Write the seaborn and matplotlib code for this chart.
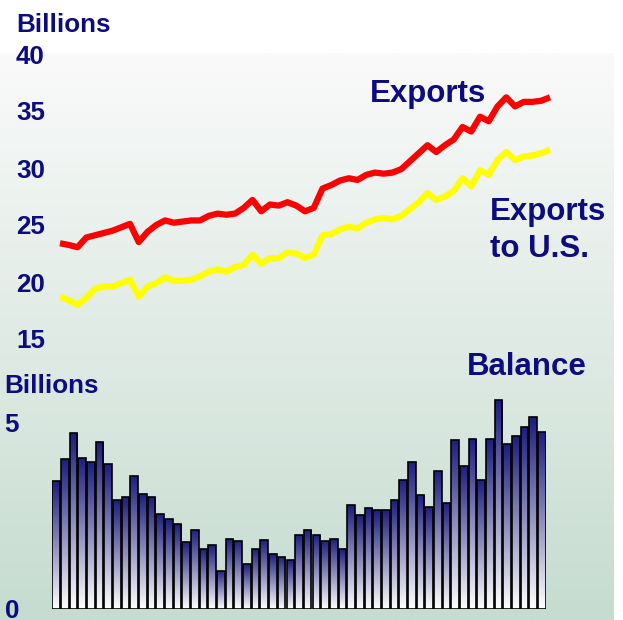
import numpy as np
import matplotlib
matplotlib.use("Agg")
import matplotlib.pyplot as plt
from matplotlib.colors import LinearSegmentedColormap
import seaborn as sns

# monthly series, billions
months = list(range(57))
exports = [23.4, 23.25, 23.05, 23.9, 24.1, 24.3, 24.5, 24.8, 25.1, 23.5,
           24.4, 25.0, 25.4, 25.2, 25.3, 25.4, 25.4, 25.8, 26.0, 25.9,
           26.0, 26.5, 27.2, 26.2, 26.8, 26.7, 27.0, 26.7, 26.2, 26.5,
           28.2, 28.5, 28.9, 29.1, 28.95, 29.4, 29.6, 29.5, 29.6, 29.9,
           30.6, 31.3, 32.0, 31.4, 32.0, 32.5, 33.6, 33.2, 34.5, 34.1,
           35.4, 36.2, 35.4, 35.8, 35.8, 35.9, 36.2]
exports_us = [18.7, 18.4, 18.0, 18.6, 19.4, 19.6, 19.6, 19.9, 20.2, 18.7,
              19.6, 19.9, 20.4, 20.1, 20.1, 20.2, 20.5, 20.9, 21.1, 20.9,
              21.3, 21.5, 22.4, 21.6, 22.1, 22.1, 22.6, 22.5, 22.1, 22.4,
              24.1, 24.2, 24.6, 24.85, 24.7, 25.2, 25.5, 25.6, 25.5, 25.8,
              26.4, 27.0, 27.8, 27.2, 27.5, 28.0, 29.1, 28.4, 29.8, 29.4,
              30.7, 31.4, 30.7, 31.0, 31.1, 31.3, 31.6]
balance = [3.42, 4.01, 4.70, 4.05, 3.94, 4.46, 3.87, 2.91, 2.99, 3.56,
           3.08, 2.99, 2.54, 2.40, 2.26, 1.78, 2.12, 1.60, 1.71, 1.02,
           1.88, 1.82, 1.19, 1.60, 1.84, 1.47, 1.40, 1.30, 1.99, 2.12,
           1.99, 1.82, 1.88, 1.60, 2.77, 2.51, 2.71, 2.64, 2.64, 2.91,
           3.46, 3.94, 3.05, 2.74, 3.70, 2.84, 4.52, 3.83, 4.55, 3.46,
           4.55, 5.58, 4.41, 4.62, 4.86, 5.13, 4.72]

top_ticks = [15, 20, 25, 30, 35, 40]
bottom_ticks = [0, 5]

NAVY = "#0c0c80"

sns.set_style("white")
plt.rcParams["font.family"] = ["Liberation Sans", "DejaVu Sans"]
plt.rcParams["font.weight"] = "bold"

W, H = 623, 620
fig = plt.figure(figsize=(W / 100, H / 100), dpi=100)
fig.patch.set_facecolor("white")


def px_rect(left, top, right, bottom):
    return [left / W, 1 - bottom / H, (right - left) / W, (bottom - top) / H]


# shaded backdrop
bg = fig.add_axes(px_rect(0, 53, 614, 620), zorder=-10)
shade = LinearSegmentedColormap.from_list("shade", ["#fafafa", "#c6dcd0"])
bg.imshow(np.linspace(0, 1, 256).reshape(-1, 1), cmap=shade, aspect="auto")
bg.axis("off")

# exports lines
ax_top = fig.add_axes(px_rect(60, 54, 550, 339))
sns.lineplot(x=months, y=exports, ax=ax_top, color="#ff0000", linewidth=4.5)
sns.lineplot(x=months, y=exports_us, ax=ax_top, color="#ffff00", linewidth=4.5)
for line in ax_top.lines:
    line.set_clip_on(False)
    line.set_solid_capstyle("butt")
ax_top.set_xlim(0, 56)
ax_top.set_ylim(15, 40)
ax_top.set_xticks([])
ax_top.set_yticks(top_ticks)
ax_top.tick_params(axis="y", length=0, pad=10.8, labelsize=18.7, labelcolor=NAVY)
ax_top.set_xlabel("")
ax_top.set_ylabel("")
ax_top.set_facecolor("none")
sns.despine(ax=ax_top, left=True, bottom=True)

# balance bars
ax_bot = fig.add_axes(px_rect(51.7, 609 - 5.7 * 37.4, 546.3, 609))
sns.barplot(x=months, y=balance, ax=ax_bot, color=NAVY, width=0.88,
            edgecolor="black", linewidth=1.2)
bar_cmap = LinearSegmentedColormap.from_list("bar", ["#ffffff", "#1c1c7e"])
grad = np.linspace(1, 0, 256).reshape(-1, 1)
for bar in ax_bot.patches:
    x0, w, h = bar.get_x(), bar.get_width(), bar.get_height()
    img = ax_bot.imshow(grad, cmap=bar_cmap, vmin=0, vmax=1, aspect="auto",
                        extent=[x0, x0 + w, 0, h], zorder=1)
    img.set_clip_path(bar)
    bar.set_facecolor("none")
    bar.set_zorder(2)
ax_bot.set_xlim(-0.5, 56.5)
ax_bot.set_ylim(0, 5.7)
ax_bot.set_xticks([])
ax_bot.set_yticks(bottom_ticks)
ax_bot.tick_params(axis="y", length=0, pad=23.5, labelsize=18.7, labelcolor=NAVY)
ax_bot.set_xlabel("")
ax_bot.set_ylabel("")
ax_bot.set_facecolor("none")
sns.despine(ax=ax_bot, left=True, bottom=True)

# labels
def label(x, y, s, size):
    fig.text(x / W, 1 - y / H, s, ha="left", va="baseline",
             fontsize=size, color=NAVY, weight="bold")

label(16, 32, "Billions", 18.7)
label(4, 393, "Billions", 18.7)
label(370, 102, "Exports", 22.5)
label(490, 220, "Exports", 22.5)
label(490, 257, "to U.S.", 22.5)
label(467, 375, "Balance", 22.5)

fig.savefig("out.png", dpi=100)
